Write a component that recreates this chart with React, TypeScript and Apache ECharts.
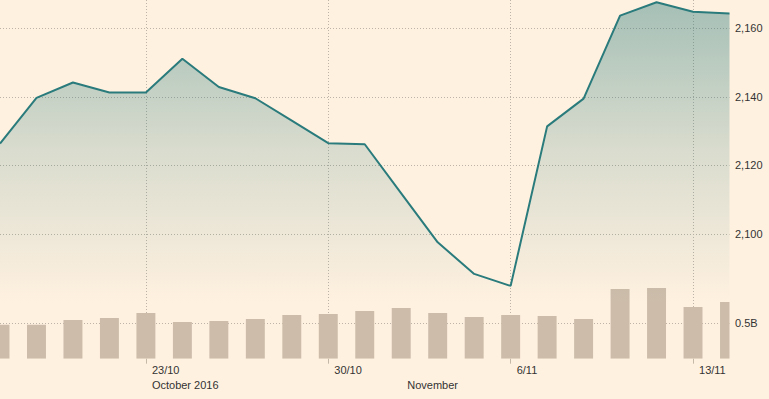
import React, { useEffect, useRef } from "react";
import * as echarts from "echarts";

// Trading days (Sun–Thu)
const dates = [
  "17/10", "18/10", "19/10", "20/10", "23/10", "24/10", "25/10", "26/10", "27/10",
  "30/10", "31/10", "1/11", "2/11", "3/11", "6/11", "7/11", "8/11", "9/11", "10/11",
  "13/11", "14/11",
];

// Index level
const indexValues = [
  2126.4, 2139.7, 2144.2, 2141.3, 2141.3, 2151.1, 2142.9, 2139.6, 2133.1, 2126.5,
  2126.2, 2111.9, 2097.6, 2088.4, 2084.9, 2131.4, 2139.5, 2163.7, 2167.6, 2164.8,
  2164.3,
];

// Volume, billions
const volumes = [
  0.48, 0.48, 0.547, 0.575, 0.645, 0.518, 0.532, 0.561, 0.617, 0.631, 0.674, 0.716,
  0.645, 0.589, 0.617, 0.603, 0.561, 0.984, 0.999, 0.73, 0.801,
];

const weekTicks = ["23/10", "30/10", "6/11", "13/11"];
const monthDates = ["23/10", "1/11"];
const monthNames = ["October 2016", "November"];

const priceTicks = [2100, 2120, 2140, 2160];
const volumeTickValue = 0.5;
const volumeTickLabel = "0.5B";

const BG = "#fff1e0";
const LINE = "#2a7b7c";
const BAR = "#cdbcaa";
const GRID = "#bdb3a6";
const TEXT = "#333333";
const FONT = "'Liberation Sans', Arial, sans-serif";

export default function App() {
  const ref = useRef<HTMLDivElement>(null);

  useEffect(() => {
    if (!ref.current) return;
    const chart = echarts.init(ref.current, undefined, { renderer: "svg" });

    const tickIdx = weekTicks.map((d) => dates.indexOf(d));
    const monthIdx = monthDates.map((d) => dates.indexOf(d));
    const labelIdx = [...tickIdx, ...monthIdx];

    const T = "transparent";
    const gridColorsPrice = [T, GRID, GRID, GRID, GRID, T, T];
    const gridColorsVol = [T, GRID, T, T, T, T, T, T, T, T, T, T, T];

    const volumeData = volumes.map((v, i) => [dates[i], v]);

    chart.setOption({
      animation: false,
      backgroundColor: BG,
      textStyle: { fontFamily: FONT },
      grid: [
        { left: 0, width: 729.5, top: 0, height: 302.7 },
        { left: 0, width: 729.5, top: 0, height: 358.7 },
      ],
      xAxis: [
        {
          gridIndex: 0,
          type: "category",
          data: dates,
          boundaryGap: false,
          show: false,
        },
        {
          gridIndex: 1,
          type: "category",
          data: dates,
          boundaryGap: false,
          axisLine: { show: false },
          axisTick: {
            show: true,
            length: 5,
            interval: (i: number) => tickIdx.includes(i),
            lineStyle: { color: "#c4b8a8", width: 1 },
          },
          splitLine: {
            show: true,
            interval: (i: number) => tickIdx.includes(i),
            lineStyle: { color: GRID, type: [1, 2], width: 1 },
          },
          axisLabel: {
            interval: (i: number) => labelIdx.includes(i),
            align: "left",
            margin: 4.3,
            padding: [0, 0, 0, 6],
            formatter: (value: string, i: number) => {
              const first = tickIdx.includes(i) ? value : " ";
              const m = monthIdx.indexOf(i);
              const second = m >= 0 ? monthNames[m] : " ";
              return `{d|${first}}\n{m|${second}}`;
            },
            rich: {
              d: { fontSize: 11, fontFamily: FONT, color: TEXT, lineHeight: 14, align: "left" },
              m: { fontSize: 11, fontFamily: FONT, color: TEXT, lineHeight: 16, align: "left" },
            },
          },
        },
      ],
      yAxis: [
        {
          gridIndex: 0,
          type: "value",
          position: "right",
          min: 2080,
          max: 2168.25,
          interval: 20,
          axisLine: { show: false },
          axisTick: { show: false },
          splitLine: {
            show: true,
            lineStyle: { color: gridColorsPrice, type: [1, 2], width: 1 },
          },
          axisLabel: {
            margin: 5.5,
            color: TEXT,
            fontSize: 11,
            fontFamily: FONT,
            formatter: (v: number) =>
              priceTicks.includes(Math.round(v * 100) / 100) ? v.toLocaleString("en-US") : "",
          },
        },
        {
          gridIndex: 1,
          type: "value",
          position: "right",
          min: 0,
          max: 5.066,
          interval: 0.5,
          axisLine: { show: false },
          axisTick: { show: false },
          splitLine: {
            show: true,
            lineStyle: { color: gridColorsVol, type: [1, 2], width: 1 },
          },
          axisLabel: {
            margin: 5.5,
            color: TEXT,
            fontSize: 11,
            fontFamily: FONT,
            formatter: (v: number) => (Math.abs(v - volumeTickValue) < 1e-9 ? volumeTickLabel : ""),
          },
        },
      ],
      series: [
        {
          type: "custom",
          name: "Volume",
          xAxisIndex: 1,
          yAxisIndex: 1,
          data: volumeData,
          encode: { x: 0, y: 1 },
          clip: true,
          z: 2,
          renderItem: (params: any, api: any) => {
            const top = api.coord([api.value(0), api.value(1)]);
            const base = api.coord([api.value(0), 0]);
            const w = api.size([1, 0])[0] * 0.52;
            const cs = params.coordSys;
            const shape = echarts.graphic.clipRectByRect(
              { x: top[0] - w / 2, y: top[1], width: w, height: base[1] - top[1] },
              { x: cs.x, y: cs.y, width: cs.width, height: cs.height }
            );
            return shape ? { type: "rect", shape, style: { fill: BAR } } : null;
          },
        },
        {
          type: "line",
          xAxisIndex: 0,
          yAxisIndex: 0,
          data: indexValues,
          symbol: "none",
          lineStyle: { color: LINE, width: 2 },
          areaStyle: {
            color: new echarts.graphic.LinearGradient(0, 0, 0, 1, [
              { offset: 0, color: "rgba(42,123,124,0.6)" },
              { offset: 0.5, color: "rgba(42,123,124,0.25)" },
              { offset: 1, color: "rgba(42,123,124,0)" },
            ]),
          },
          z: 3,
        },
      ],
    });

    return () => chart.dispose();
  }, []);

  return (
    <div
      ref={ref}
      style={{ position: "absolute", left: 0, top: 0, width: 769, height: 399 }}
    />
  );
}
